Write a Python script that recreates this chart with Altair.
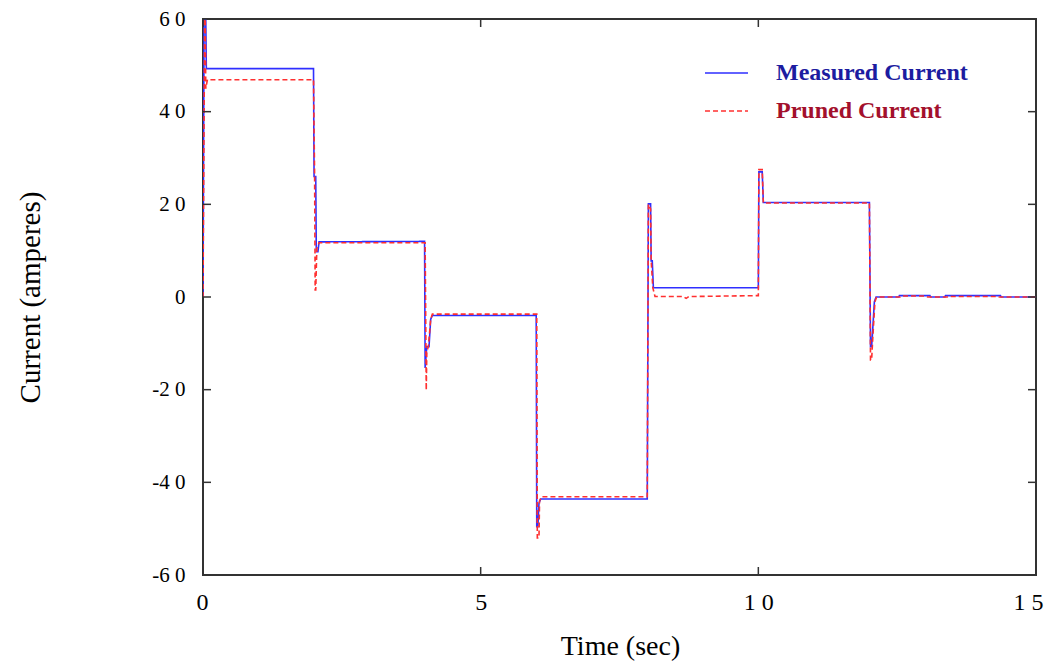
import altair as alt
import pandas as pd

# ---------------- data ----------------
series_names = ["Measured Current", "Pruned Current"]

measured_t = [0, 0.02, 0.05, 0.06, 1.99, 2.0, 2.03, 2.04, 2.07, 2.09, 3.99, 4.0, 4.03, 4.07, 4.1, 4.13,
              6.0, 6.01, 6.03, 6.05, 6.08, 8.0, 8.02, 8.06, 8.07, 8.09, 8.11, 10.0, 10.01, 10.07, 10.09,
              12.0, 12.02, 12.04, 12.05, 12.09, 12.12, 12.53, 12.54, 13.09, 13.1, 13.36, 13.37, 14.36, 14.37, 15.0]
measured_v = [0, 60, 60, 49.3, 49.3, 26, 26, 9.8, 9.8, 11.9, 12.0, -15.3, -10.7, -10.7, -4.8, -4.0,
              -4.0, -49.6, -49.6, -44.5, -43.6, -43.6, 20.1, 20.1, 7.8, 7.8, 2.0, 2.0, 27.0, 27.0, 20.4,
              20.4, -10.7, -10.7, -8.9, -1.0, 0, 0, 0.3, 0.3, 0, 0, 0.3, 0.3, 0, 0]

pruned_t = [0, 0.03, 0.04, 0.05, 0.08, 1.99, 2.0, 2.01, 2.02, 2.03, 2.05, 2.09, 4.0, 4.02, 4.03, 4.06,
            4.1, 4.13, 6.01, 6.02, 6.05, 6.06, 6.1, 8.0, 8.02, 8.06, 8.07, 8.1, 8.14, 8.65, 8.7, 8.75,
            10.0, 10.01, 10.07, 10.09, 12.0, 12.02, 12.04, 12.06, 12.1, 12.13, 12.55, 12.56, 13.0, 13.05,
            13.4, 13.41, 14.3, 14.31, 15.0]
pruned_v = [0, 60, 60, 45, 46.9, 46.9, 36, 26, 1.5, 1.5, 10.5, 11.7, 11.7, -20.1, -12, -10.5,
            -4.8, -3.7, -3.7, -52, -52, -44, -43.1, -43.1, 20.0, 19.0, 8.0, 2.0, 0.1, 0.1, -0.3, 0.1,
            0.3, 27.5, 27.5, 20.3, 20.3, -13.6, -13.6, -9.0, -1.0, 0, 0, 0.2, 0.2, 0,
            0, 0.1, 0.1, 0, 0]

x_ticks = [0, 5, 10, 15]
x_tick_labels = ["0", "5", "1 0", "1 5"]
y_ticks = [-60, -40, -20, 0, 20, 40, 60]
y_tick_labels = ["-6 0", "-4 0", "-2 0", "0", "2 0", "4 0", "6 0"]

line_colors = ["#2f2fff", "#ff3030"]
text_colors = ["#1c1ca0", "#a3102c"]

# ---------------- build tables ----------------
rows = []
for i, (t, v) in enumerate(zip(measured_t, measured_v)):
    rows.append({"t": t, "v": v, "series": series_names[0], "i": i})
for i, (t, v) in enumerate(zip(pruned_t, pruned_v)):
    rows.append({"t": t, "v": v, "series": series_names[1], "i": i})
df = pd.DataFrame(rows)


def label_expr(values, labels):
    expr = "datum.label"
    for val, lab in zip(values, labels):
        expr = f"datum.value == {val} ? '{lab}' : (" + expr + ")"
    return expr


W, H = 833, 556
FONT = "Liberation Serif"

xscale = alt.Scale(domain=[0, 15], nice=False, zero=False)
yscale = alt.Scale(domain=[-60, 60], nice=False, zero=False)

x_axis = alt.Axis(title="Time (sec)", values=x_ticks, ticks=False, domain=False, grid=False,
                  labelExpr=label_expr(x_ticks, x_tick_labels), labelFont=FONT, labelFontSize=24,
                  labelColor="black", labelPadding=15, labelFlush=True, labelFlushOffset=7,
                  titleFont=FONT, titleFontSize=28, titleFontWeight="normal", titleColor="black",
                  titleX=417, titleY=71, titleBaseline="middle", titleAlign="center")
y_axis = alt.Axis(title="Current (amperes)", values=y_ticks, ticks=False, domain=False, grid=False,
                  labelExpr=label_expr(y_ticks, y_tick_labels), labelFont=FONT, labelFontSize=21,
                  labelColor="black", labelPadding=18, labelFlush=False,
                  titleFont=FONT, titleFontSize=29, titleFontWeight="normal", titleColor="black",
                  titleX=-173, titleY=278, titleBaseline="middle", titleAlign="center", titleAngle=270)

lines = alt.Chart(df).mark_line(clip=True, strokeWidth=1.6).encode(
    x=alt.X("t:Q", scale=xscale, axis=x_axis),
    y=alt.Y("v:Q", scale=yscale, axis=y_axis),
    color=alt.Color("series:N", scale=alt.Scale(domain=series_names, range=line_colors), legend=None),
    strokeDash=alt.StrokeDash("series:N", scale=alt.Scale(domain=series_names, range=[[1, 0], [5, 3]]),
                              legend=None),
    order=alt.Order("i:Q"),
)

# inward tick marks
yt = pd.DataFrame({"v": y_ticks})
xt = pd.DataFrame({"t": x_ticks})
tick_color = "#333333"
yticks_left = alt.Chart(yt).mark_rule(color=tick_color, strokeWidth=1.5).encode(
    y=alt.Y("v:Q", scale=yscale, axis=y_axis), x=alt.value(0), x2=alt.value(8))
yticks_right = alt.Chart(yt).mark_rule(color=tick_color, strokeWidth=1.5).encode(
    y=alt.Y("v:Q", scale=yscale, axis=y_axis), x=alt.value(W), x2=alt.value(W - 8))
xticks_bottom = alt.Chart(xt).mark_rule(color=tick_color, strokeWidth=1.5).encode(
    x=alt.X("t:Q", scale=xscale, axis=x_axis), y=alt.value(H), y2=alt.value(H - 8))
xticks_top = alt.Chart(xt).mark_rule(color=tick_color, strokeWidth=1.5).encode(
    x=alt.X("t:Q", scale=xscale, axis=x_axis), y=alt.value(0), y2=alt.value(8))

# manual legend
leg_layers = []
leg_y = [54, 92]
dashes = [[1, 0], [5, 3]]
for k in range(2):
    ldf = pd.DataFrame({"s": [series_names[k]]})
    leg_layers.append(
        alt.Chart(ldf).mark_rule(color=line_colors[k], strokeWidth=1.5, strokeDash=dashes[k]).encode(
            x=alt.value(502), x2=alt.value(545), y=alt.value(leg_y[k])))
    leg_layers.append(
        alt.Chart(ldf).mark_text(align="left", baseline="middle", font=FONT, fontSize=24,
                                 fontWeight="bold", color=text_colors[k]).encode(
            x=alt.value(573), y=alt.value(leg_y[k]), text=alt.Text("s:N")))

chart = alt.layer(lines, yticks_left, yticks_right, xticks_bottom, xticks_top, *leg_layers).properties(
    width=W, height=H,
    autosize=alt.AutoSizeParams(type="none"),
    padding={"left": 195, "top": 11, "right": 8, "bottom": 88},
    background="white",
).configure_view(stroke="#333333", strokeWidth=2)

chart.save("out.html", embed_options={"renderer": "svg", "actions": False})
